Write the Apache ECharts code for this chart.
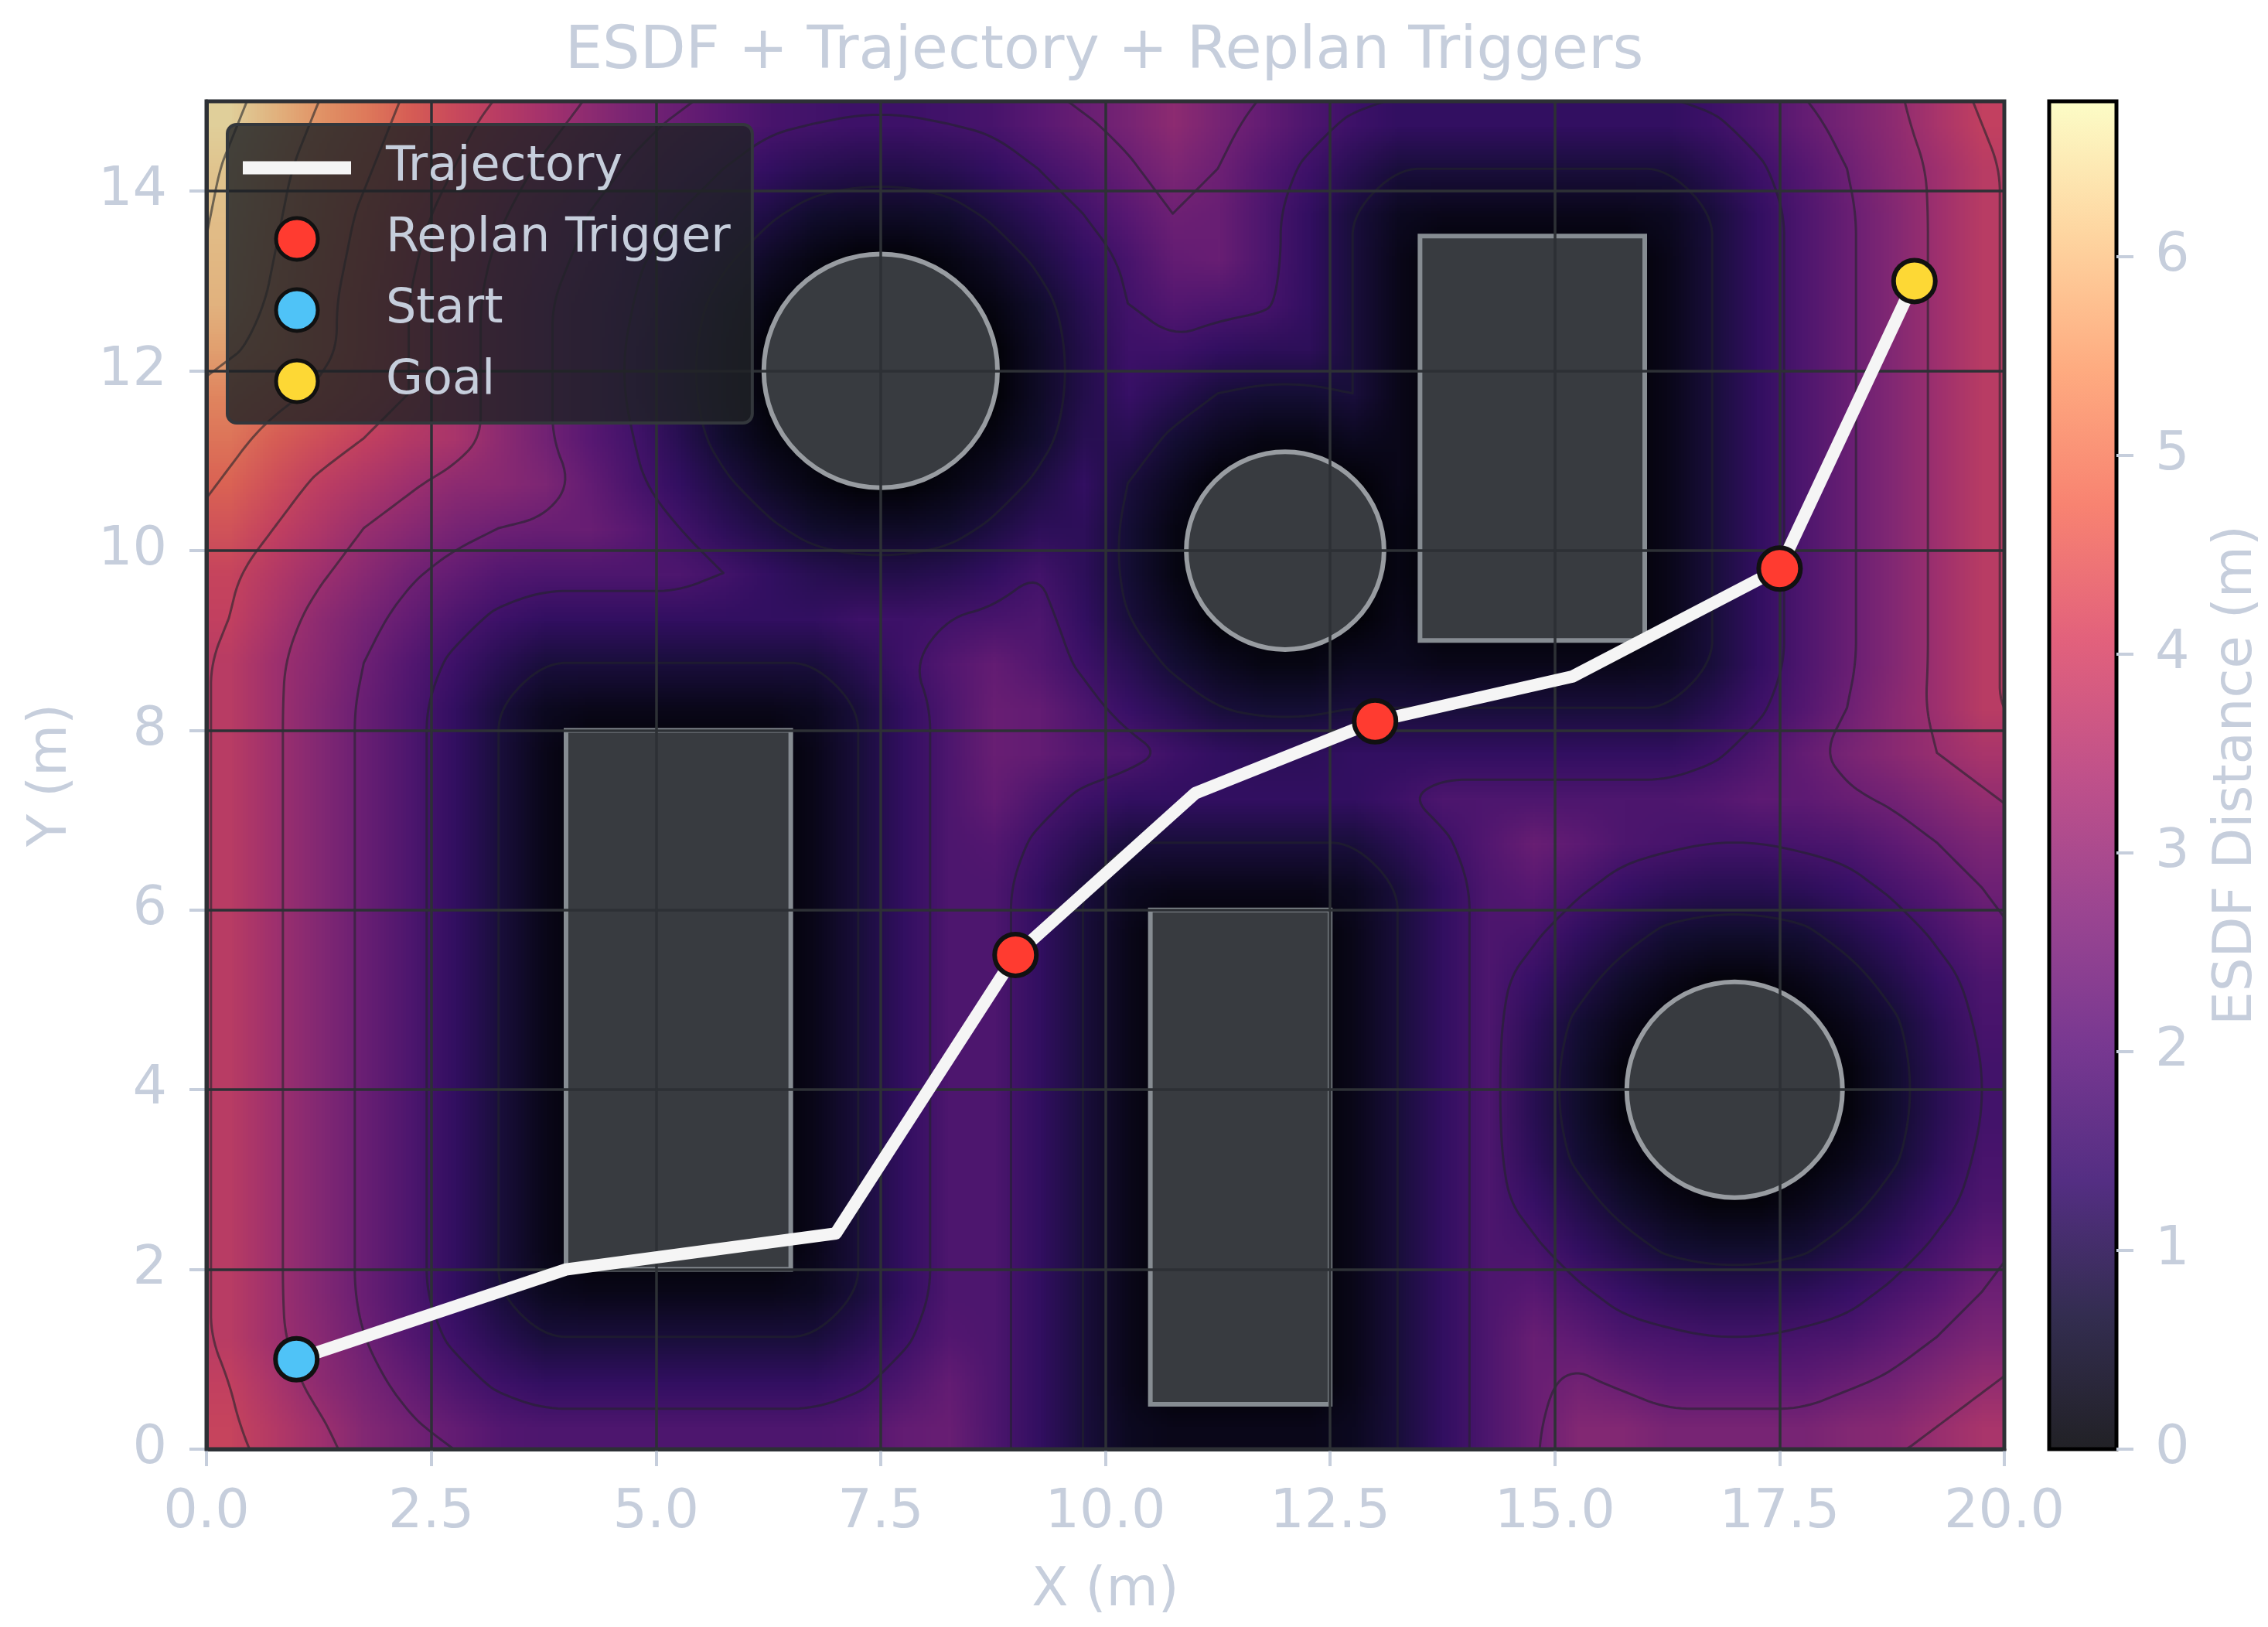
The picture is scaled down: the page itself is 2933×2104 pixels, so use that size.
<!DOCTYPE html>
<html><head><meta charset="utf-8">
<style>html,body{margin:0;padding:0;background:#fff}#c{width:2933px;height:2104px}</style>
<script src="https://cdn.jsdelivr.net/npm/echarts@6/dist/echarts.min.js"></script>
</head><body><div id="c"></div>
<script>
const titleText = 'ESDF + Trajectory + Replan Triggers';
const xTicks = [0,2.5,5,7.5,10,12.5,15,17.5,20];
const yTicks = [0,2,4,6,8,10,12,14];
const barTicks = [0,1,2,3,4,5,6];
const barMax = 6.78;
const contourLevels = [.8,1.6,2.4,3.2,4,4.8,5.6,6.4];
const magmaStops = ['#000004','#140e36','#3b0f70','#641a80','#8c2981','#b73779','#de4968','#f7705c','#fe9f6d','#fecf92','#fcfdbf'];
// ESDF reading per 0.5 m cell: first row is y = 0.25, first column x = 0.25
const esdfRows = [
[4.1,3.7,3.3,2.8,2.5,2.2,1.9,1.8, 1.8,1.8,1.8,1.8,1.8, 1.8,1.9,2.2,2.3,1.8,1.3,.8,.4, .3,.3,.3,.3, .4,.8,1.3,1.8,2.3,2.8,2.8, 2.6,2.6,2.6,2.6,2.8,2.9,3.2,3.5],
[4.0,3.5,3.0,2.6,2.2,1.8,1.5,1.3, 1.3,1.3,1.3,1.3,1.3, 1.3,1.5,1.8,2.2,1.8,1.3,.8,.3, 0,0,0,0, .3,.8,1.3,1.8,2.3,2.5,2.3, 2.1,2.1,2.1,2.1,2.3,2.5,2.8,3.1],
[3.8,3.3,2.9,2.4,1.9,1.5,1.1,.8, .8,.8,.8,.8,.8, .8,1.1,1.5,1.9,1.8,1.3,.8,.3, 0,0,0,0, .3,.8,1.3,1.8,2.3,2.1,1.8, 1.7,1.6,1.6,1.7,1.8,2.1,2.4,2.7],
[3.8,3.3,2.8,2.3,1.8,1.3,.8,.4, .3,.3,.3,.3,.3, .4,.8,1.3,1.8,1.8,1.3,.8,.3, 0,0,0,0, .3,.8,1.3,1.8,2.0,1.7,1.4, 1.2,1.1,1.1,1.2,1.4,1.7,2.0,2.4],
[3.8,3.3,2.8,2.3,1.8,1.3,.8,.3, 0,0,0,0,0, .3,.8,1.3,1.8,1.8,1.3,.8,.3, 0,0,0,0, .3,.8,1.3,1.8,1.7,1.3,1.0, .7,.6,.6,.7,1.0,1.3,1.7,2.1],
[3.8,3.3,2.8,2.3,1.8,1.3,.8,.3, 0,0,0,0,0, .3,.8,1.3,1.8,1.8,1.3,.8,.3, 0,0,0,0, .3,.8,1.3,1.8,1.4,1.0,.6, .3,.1,.1,.3,.6,1.0,1.4,1.8],
[3.8,3.3,2.8,2.3,1.8,1.3,.8,.3, 0,0,0,0,0, .3,.8,1.3,1.8,1.8,1.3,.8,.3, 0,0,0,0, .3,.8,1.3,1.8,1.2,.7,.3, 0,0,0,0,.3,.7,1.2,1.7],
[3.8,3.3,2.8,2.3,1.8,1.3,.8,.3, 0,0,0,0,0, .3,.8,1.3,1.8,1.8,1.3,.8,.3, 0,0,0,0, .3,.8,1.3,1.8,1.1,.6,.1, 0,0,0,0,.1,.6,1.1,1.6],
[3.8,3.3,2.8,2.3,1.8,1.3,.8,.3, 0,0,0,0,0, .3,.8,1.3,1.8,1.8,1.3,.8,.3, 0,0,0,0, .3,.8,1.3,1.8,1.1,.6,.1, 0,0,0,0,.1,.6,1.1,1.6],
[3.8,3.3,2.8,2.3,1.8,1.3,.8,.3, 0,0,0,0,0, .3,.8,1.3,1.8,1.8,1.3,.8,.3, 0,0,0,0, .3,.8,1.3,1.8,1.2,.7,.3, 0,0,0,0,.3,.7,1.2,1.7],
[3.8,3.3,2.8,2.3,1.8,1.3,.8,.3, 0,0,0,0,0, .3,.8,1.3,1.8,1.8,1.3,.8,.3, 0,0,0,0, .3,.8,1.3,1.8,1.4,1.0,.6, .3,.1,.1,.3,.6,1.0,1.4,1.8],
[3.8,3.3,2.8,2.3,1.8,1.3,.8,.3, 0,0,0,0,0, .3,.8,1.3,1.8,1.8,1.3,.8,.3, 0,0,0,0, .3,.8,1.3,1.8,1.7,1.3,1.0, .7,.6,.6,.7,1.0,1.3,1.7,2.1],
[3.8,3.3,2.8,2.3,1.8,1.3,.8,.3, 0,0,0,0,0, .3,.8,1.3,1.8,1.8,1.3,.8,.4, .3,.3,.3,.3, .4,.8,1.3,1.8,2.0,1.7,1.4, 1.2,1.1,1.1,1.2,1.4,1.7,2.0,2.4],
[3.8,3.3,2.8,2.3,1.8,1.3,.8,.3, 0,0,0,0,0, .3,.8,1.3,1.8,1.9,1.5,1.1,.8, .8,.8,.8,.8, .8,1.1,1.5,1.9,2.3,2.1,1.8, 1.7,1.6,1.6,1.7,1.8,2.1,2.4,2.7],
[3.8,3.3,2.8,2.3,1.8,1.3,.8,.3, 0,0,0,0,0, .3,.8,1.3,1.8,2.2,1.8,1.5,1.3, 1.3,1.3,1.3,1.3, 1.3,1.5,1.8,1.8,1.8,1.8,1.8, 1.8,1.9,2.1,2.1,2.3,2.5,2.8,3.1],
[3.8,3.3,2.8,2.3,1.8,1.3,.8,.3, 0,0,0,0,0, .3,.8,1.3,1.8,2.3,2.2,1.9,1.8, 1.5,1.3,1.2,1.2, 1.3,1.3,1.3,1.3,1.3,1.3,1.3, 1.3,1.5,1.8,2.2,2.6,2.9,3.2,3.5],
[3.8,3.3,2.8,2.3,1.8,1.3,.8,.4, .3,.3,.3,.3,.3, .4,.8,1.3,1.8,2.3,2.2,1.8,1.4, 1.1,.8,.7,.7, .8,.8,.8,.8,.8,.8,.8, .8,1.1,1.5,1.9,2.4,2.9,3.3,3.8],
[3.8,3.3,2.9,2.4,1.9,1.5,1.1,.8, .8,.8,.8,.8,.8, .8,1.1,1.5,1.9,2.2,1.9,1.5,1.1, .7,.4,.2,.2, .4,.4,.3,.3,.3,.3,.3, .4,.8,1.3,1.8,2.3,2.8,3.3,3.8],
[4.0,3.5,3.0,2.6,2.2,1.8,1.5,1.3, 1.3,1.3,1.3,1.3,1.3, 1.3,1.5,1.5,1.6,1.7,1.8,1.3,.8, .4,0,0,0, 0,.3,0,0,0,0,0, .3,.8,1.3,1.8,2.3,2.8,3.3,3.8],
[4.1,3.7,3.3,2.9,2.5,2.2,1.9,1.8, 1.8,1.8,1.8,1.6,1.3, 1.1,1.0,1.0,1.1,1.3,1.6,1.2,.7, .2,0,0,0, 0,.2,0,0,0,0,0, .3,.8,1.3,1.8,2.3,2.8,3.3,3.8],
[4.4,4.0,3.6,3.2,2.9,2.6,2.4,2.3, 2.3,2.0,1.6,1.2,.9, .6,.5,.5,.6,.9,1.2,1.2,.7, .2,0,0,0, 0,.2,0,0,0,0,0, .3,.8,1.3,1.8,2.3,2.8,3.3,3.8],
[4.7,4.3,3.9,3.6,3.3,3.0,2.9,2.7, 2.2,1.7,1.3,.9,.5, .2,0,0,.2,.5,.9,1.3,.8, .4,0,0,0, 0,.3,0,0,0,0,0, .3,.8,1.3,1.8,2.3,2.8,3.3,3.8],
[5.0,4.6,4.3,4.0,3.7,3.5,3.0,2.5, 2.0,1.6,1.1,.6,.2, 0,0,0,0,.2,.6,1.1,1.1, .7,.4,.2,.2, .4,.3,0,0,0,0,0, .3,.8,1.3,1.8,2.3,2.8,3.3,3.8],
[5.3,5.0,4.7,4.4,4.0,3.5,3.0,2.5, 2.0,1.5,1.0,.5,0, 0,0,0,0,0,.5,1.0,1.4, 1.1,.8,.7,.7, .8,.3,0,0,0,0,0, .3,.8,1.3,1.8,2.3,2.8,3.3,3.8],
[5.7,5.4,5.0,4.5,4.0,3.5,3.0,2.5, 2.0,1.5,1.0,.5,0, 0,0,0,0,0,.5,1.0,1.5, 1.5,1.3,1.2,1.2, .8,.3,0,0,0,0,0, .3,.8,1.3,1.8,2.3,2.8,3.3,3.8],
[6.0,5.5,5.0,4.5,4.0,3.5,3.0,2.5, 2.0,1.6,1.1,.6,.2, 0,0,0,0,.2,.6,1.1,1.6, 1.9,1.8,1.7,1.3, .8,.3,0,0,0,0,0, .3,.8,1.3,1.8,2.3,2.8,3.3,3.8],
[6.1,5.6,5.1,4.6,4.1,3.6,3.1,2.7, 2.2,1.7,1.3,.9,.5, .2,0,0,.2,.5,.9,1.3,1.7, 2.2,2.3,1.8,1.3, .8,.3,0,0,0,0,0, .3,.8,1.3,1.8,2.3,2.8,3.3,3.8],
[6.2,5.7,5.2,4.7,4.2,3.8,3.3,2.8, 2.4,2.0,1.6,1.2,.9, .6,.5,.5,.6,.9,1.2,1.6,2.0, 2.4,2.3,1.8,1.3, .8,.4,.3,.3,.3,.3,.3, .4,.8,1.3,1.8,2.3,2.8,3.3,3.8],
[6.3,5.8,5.3,4.9,4.4,4.0,3.5,3.1, 2.7,2.3,1.9,1.6,1.3, 1.1,1.0,1.0,1.1,1.3,1.6,1.9,2.3, 2.7,2.4,1.9,1.5, 1.1,.8,.8,.8,.8,.8,.8, .8,1.1,1.5,1.9,2.4,2.9,3.3,3.8],
[6.5,6.0,5.5,5.1,4.6,4.2,3.8,3.4, 3.0,2.6,2.3,2.0,1.7, 1.6,1.5,1.5,1.6,1.7,2.0,2.3,2.6, 3.0,2.6,2.2,1.8, 1.5,1.3,1.3,1.3,1.3,1.3,1.3, 1.3,1.5,1.8,2.2,2.6,3.0,3.5,4.0]
];
const rectObstacles = [[4,2,6.5,8],[10.5,.5,12.5,6],[13.5,9,16,13.5]];
const circleObstacles = [[7.5,12,1.3],[12,10,1.1],[17,4,1.2]];
const trajectoryPath = [[1,1],[4,2],[7,2.4],[9,5.5],[11,7.3],[13,8.1],[15.2,8.6],[17.5,9.8],[19,13]];
const replanPoints = [[9,5.5],[13,8.1],[17.5,9.8]];
const startPoint = [[1,1]];
const goalPoint = [[19,13]];

const INK = '#c6cedc', FONT = '"DejaVu Sans"', GRIDC = '#2d3035';
const hex = h => [1,3,5].map(i => parseInt(h.substr(i,2),16));
const blend = (h, a, bg) => { const c = hex(h); return [0,1,2].map(i => Math.round(c[i]*a + bg[i]*(1-a))); };
const css = c => `rgb(${c[0]},${c[1]},${c[2]})`;
const plotRamp = magmaStops.map(h => blend(h, .88, [13,14,18]));
const barRamp = magmaStops.map(h => blend(h, .87, [255,255,255]));
function rampAt(v){
  const t = Math.min(.99999, Math.max(0, v/barMax))*(plotRamp.length-1), i = Math.floor(t), f = t-i;
  return [0,1,2].map(k => plotRamp[i][k]*(1-f) + plotRamp[i+1][k]*f);
}
const nx = esdfRows[0].length, ny = esdfRows.length;
const xCats = Array.from({length:nx}, (_,i) => String(.25+.5*i));
const yCats = Array.from({length:ny}, (_,j) => String(.25+.5*j));
const heatData = [];
esdfRows.forEach((row,j) => row.forEach((v,i) => heatData.push([i,j,v])));

// smooth display of the same cells: one pixel per cell, scaled by the browser
const cellCanvas = document.createElement('canvas');
cellCanvas.width = nx; cellCanvas.height = ny;
(function(){
  const g = cellCanvas.getContext('2d'), im = g.createImageData(nx,ny);
  esdfRows.forEach((row,j) => row.forEach((v,i) => {
    const c = rampAt(v), o = ((ny-1-j)*nx+i)*4;
    im.data[o]=c[0]; im.data[o+1]=c[1]; im.data[o+2]=c[2]; im.data[o+3]=255;
  }));
  g.putImageData(im,0,0);
})();

// contour lines traced through the same cells, then rounded for display
function node(i,j){
  if(i<0) return 2*node(0,j)-node(1,j);
  if(i>=nx) return 2*node(nx-1,j)-node(nx-2,j);
  if(j<0) return 2*node(i,0)-node(i,1);
  if(j>=ny) return 2*node(i,ny-1)-node(i,ny-2);
  return esdfRows[j][i];
}
function key2(p){ return p[0].toFixed(5)+','+p[1].toFixed(5); }
function traceLevel(L){
  const segs = [];
  for(let j=-1;j<ny;j++) for(let i=-1;i<nx;i++){
    const a=node(i,j), b=node(i+1,j), c=node(i+1,j+1), d=node(i,j+1);
    const X=q=>.25+.5*q, pts=[];
    if((a<L)!==(b<L)) pts.push([X(i+(L-a)/(b-a)),X(j)]);
    if((b<L)!==(c<L)) pts.push([X(i+1),X(j+(L-b)/(c-b))]);
    if((d<L)!==(c<L)) pts.push([X(i+(L-d)/(c-d)),X(j+1)]);
    if((a<L)!==(d<L)) pts.push([X(i),X(j+(L-a)/(d-a))]);
    if(pts.length===2) segs.push([pts[0],pts[1]]);
    else if(pts.length===4){
      if(((a+b+c+d)/4<L)===(a<L)) segs.push([pts[0],pts[1]],[pts[2],pts[3]]);
      else segs.push([pts[0],pts[3]],[pts[1],pts[2]]);
    }
  }
  const ends = new Map();
  segs.forEach((s,k) => s.forEach(p => { const q=key2(p); if(!ends.has(q)) ends.set(q,[]); ends.get(q).push(k); }));
  const used = new Array(segs.length).fill(false), out = [];
  const extend = (line) => {
    for(;;){
      const tail = line[line.length-1];
      const next = (ends.get(key2(tail))||[]).find(k => !used[k]);
      if(next===undefined) return;
      used[next] = true;
      const s = segs[next];
      line.push(key2(s[0])===key2(tail) ? s[1] : s[0]);
    }
  };
  segs.forEach((s,k) => {
    if(used[k]) return;
    used[k] = true;
    const line = [s[0],s[1]];
    extend(line); line.reverse(); extend(line);
    out.push(line);
  });
  return out;
}
function roundOff(line){
  const closed = key2(line[0])===key2(line[line.length-1]);
  const out = closed ? [] : [line[0]];
  for(let i=0;i<line.length-1;i++){
    const a=line[i], b=line[i+1];
    out.push([a[0]*.75+b[0]*.25,a[1]*.75+b[1]*.25],[a[0]*.25+b[0]*.75,a[1]*.25+b[1]*.75]);
  }
  if(closed) out.push(out[0]); else out.push(line[line.length-1]);
  return out;
}
const contourLines = [];
contourLevels.forEach(L => traceLevel(L).forEach(l => contourLines.push(roundOff(roundOff(roundOff(l))))));

const tickLine = {show:true,length:22,lineStyle:{color:INK,width:4}};
const lab = (fmt,m) => ({color:INK,fontSize:70,fontFamily:FONT,margin:m,formatter:fmt});
const nameStyle = {color:INK,fontSize:69,fontFamily:FONT};
const chart = echarts.init(document.getElementById('c'),null,{renderer:'canvas'});
chart.setOption({
  animation:false,
  backgroundColor:'#ffffff',
  title:{text:titleText,left:1423,top:25,textAlign:'center',textStyle:{color:INK,fontSize:76.6,fontWeight:'normal',fontFamily:FONT}},
  grid:[
    {left:267,right:341,top:131,bottom:230,outerBoundsMode:'none'},
    {left:2650,width:87,top:131,bottom:230,outerBoundsMode:'none'}
  ],
  visualMap:{show:false,type:'continuous',min:0,max:barMax,seriesIndex:0,inRange:{color:plotRamp.map(css)}},
  legend:{
    left:294,top:161,orient:'vertical',selectedMode:false,z:20,
    data:[
      {name:'Trajectory',icon:'path://M0 0H140V17H0Z',itemStyle:{borderWidth:0}},
      'Replan Trigger','Start','Goal'
    ],
    itemWidth:140,itemHeight:54,itemGap:30,
    backgroundColor:'rgba(32,34,38,.82)',borderColor:'#33373c',borderWidth:4,borderRadius:12,
    padding:[25,28,23,20],
    itemStyle:{borderWidth:5},
    textStyle:{color:INK,fontSize:62,fontFamily:FONT,padding:[0,0,0,40]}
  },
  xAxis:[
    {type:'value',gridIndex:0,min:0,max:20,interval:2.5,z:4,
     axisLine:{show:true,lineStyle:{color:GRIDC,width:5}},axisTick:tickLine,
     axisLabel:lab(v=>v.toFixed(1),48),
     splitLine:{show:true,lineStyle:{color:GRIDC,width:3.5}},
     name:'X (m)',nameLocation:'middle',nameGap:150,nameTextStyle:nameStyle},
    {type:'category',gridIndex:0,data:xCats,show:false},
    {type:'value',gridIndex:1,min:0,max:1,show:false}
  ],
  yAxis:[
    {type:'value',gridIndex:0,min:0,max:15,interval:2,z:4,
     axisLine:{show:true,lineStyle:{color:GRIDC,width:5}},
     axisTick:{...tickLine,customValues:yTicks},
     axisLabel:{...lab(v=>String(v),51),customValues:yTicks},
     splitLine:{show:true,lineStyle:{color:GRIDC,width:3.5}},
     name:'Y (m)',nameLocation:'middle',nameGap:165,nameTextStyle:nameStyle},
    {type:'category',gridIndex:0,data:yCats,show:false},
    {type:'value',gridIndex:1,min:0,max:barMax,position:'right',z:4,
     axisLine:{show:false,onZero:false},
     axisTick:{...tickLine,customValues:barTicks},
     axisLabel:{...lab(v=>String(v),50),customValues:barTicks},
     splitLine:{show:false},
     name:'ESDF Distance (m)',nameLocation:'middle',nameRotate:90,nameGap:122,nameTextStyle:nameStyle}
  ],
  series:[
    {type:'heatmap',xAxisIndex:1,yAxisIndex:1,z:1,silent:true,data:heatData,progressive:0},
    {type:'custom',xAxisIndex:0,yAxisIndex:0,z:1,silent:true,clip:true,data:[[0,0,20,15]],
     renderItem:(p,api)=>{
       const a=api.coord([api.value(0),api.value(3)]), b=api.coord([api.value(2),api.value(1)]);
       return {type:'image',style:{image:cellCanvas,x:a[0],y:a[1],width:b[0]-a[0],height:b[1]-a[1]}};
     }},
    {type:'custom',xAxisIndex:0,yAxisIndex:0,z:2,silent:true,clip:true,progressive:0,
     data:contourLines.map((l,i)=>[0,0,i]),
     renderItem:(p,api)=>{
       const pts=contourLines[api.value(2)].map(q=>api.coord(q));
       return {type:'polyline',shape:{points:pts},style:{fill:'none',stroke:'rgba(34,37,42,.6)',lineWidth:3,lineJoin:'round'}};
     }},
    {type:'custom',xAxisIndex:0,yAxisIndex:0,z:3,silent:true,data:rectObstacles,
     renderItem:(p,api)=>{
       const a=api.coord([api.value(0),api.value(3)]), b=api.coord([api.value(2),api.value(1)]);
       return {type:'rect',shape:{x:a[0],y:a[1],width:b[0]-a[0],height:b[1]-a[1]},style:{fill:'#383b40',stroke:'#868c92',lineWidth:6}};
     }},
    {type:'custom',xAxisIndex:0,yAxisIndex:0,z:3,silent:true,data:circleObstacles,
     renderItem:(p,api)=>{
       const c=api.coord([api.value(0),api.value(1)]), r=api.size([api.value(2),0])[0];
       return {type:'circle',shape:{cx:c[0],cy:c[1],r:r},style:{fill:'#383b40',stroke:'#989ca1',lineWidth:6}};
     }},
    {type:'custom',xAxisIndex:0,yAxisIndex:0,z:5,silent:true,data:[[0,0,20,15]],
     renderItem:(p,api)=>{
       const a=api.coord([api.value(0),api.value(3)]), b=api.coord([api.value(2),api.value(1)]);
       return {type:'rect',shape:{x:a[0],y:a[1],width:b[0]-a[0],height:b[1]-a[1]},style:{fill:'none',stroke:GRIDC,lineWidth:5}};
     }},
    {type:'custom',xAxisIndex:2,yAxisIndex:2,z:3,silent:true,data:[[0,0,1,barMax]],
     renderItem:(p,api)=>{
       const a=api.coord([api.value(0),api.value(3)]), b=api.coord([api.value(2),api.value(1)]);
       const stops=barRamp.map((c,i)=>({offset:i/(barRamp.length-1),color:css(c)}));
       return {type:'rect',shape:{x:a[0],y:a[1],width:b[0]-a[0],height:b[1]-a[1]},
         style:{fill:new echarts.graphic.LinearGradient(0,1,0,0,stops),stroke:'#000',lineWidth:5}};
     }},
    {name:'Trajectory',type:'line',xAxisIndex:0,yAxisIndex:0,z:6,silent:true,data:trajectoryPath,showSymbol:false,symbol:'none',
     lineStyle:{color:'#f5f5f5',width:16,join:'round',cap:'round'},itemStyle:{color:'#f5f5f5'}},
    {name:'Replan Trigger',type:'scatter',xAxisIndex:0,yAxisIndex:0,z:7,silent:true,data:replanPoints,symbolSize:54,
     itemStyle:{color:'#ff3b30',borderColor:'#111',borderWidth:6,opacity:1}},
    {name:'Start',type:'scatter',xAxisIndex:0,yAxisIndex:0,z:7,silent:true,data:startPoint,symbolSize:54,
     itemStyle:{color:'#4fc3f7',borderColor:'#111',borderWidth:6,opacity:1}},
    {name:'Goal',type:'scatter',xAxisIndex:0,yAxisIndex:0,z:7,silent:true,data:goalPoint,symbolSize:54,
     itemStyle:{color:'#fdd835',borderColor:'#111',borderWidth:6,opacity:1}}
  ]
});
</script></body></html>
